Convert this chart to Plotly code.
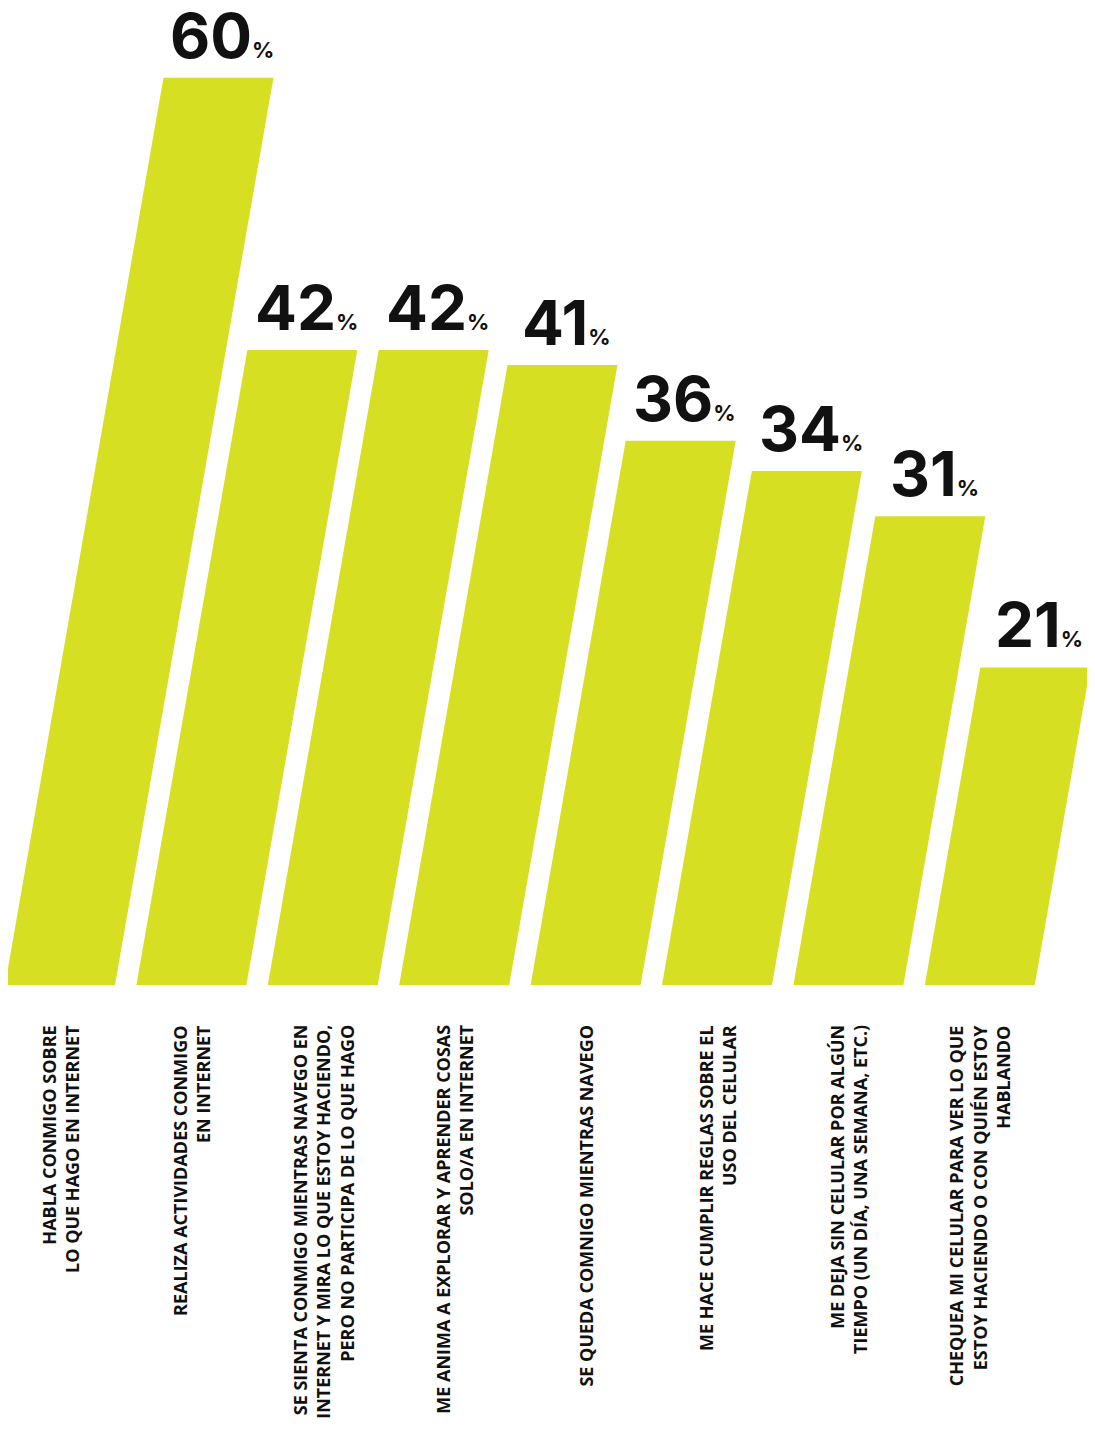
import plotly.graph_objects as go

LIME = "#D7DF23"
INK = "#111111"

categories = [
    "HABLA CONMIGO SOBRE<br>LO QUE HAGO EN INTERNET",
    "REALIZA ACTIVIDADES CONMIGO<br>EN INTERNET",
    "SE SIENTA CONMIGO MIENTRAS NAVEGO EN<br>INTERNET Y MIRA LO QUE ESTOY HACIENDO,<br>PERO NO PARTICIPA DE LO QUE HAGO",
    "ME ANIMA A EXPLORAR Y APRENDER COSAS<br>SOLO/A EN INTERNET",
    "SE QUEDA COMNIGO MIENTRAS NAVEGO",
    "ME HACE CUMPLIR REGLAS SOBRE EL<br>USO DEL CELULAR",
    "ME DEJA SIN CELULAR POR ALGÚN<br>TIEMPO (UN DÍA, UNA SEMANA, ETC.)",
    "CHEQUEA MI CELULAR PARA VER LO QUE<br>ESTOY HACIENDO O CON QUIÉN ESTOY<br>HABLANDO",
]
values = [60, 42, 42, 41, 36, 34, 31, 21]

BAR_W = 0.837   # bar width in category units
SLANT = 0.0201  # horizontal lean per percentage point

# page has an 8px body margin, so the figure is a bit smaller than the window
W, H = 1087, 1423
PX_X, PX_Y = 131.4, 15.12
X0_PX, Y0_PX = 52, 977

fig = go.Figure()

for i, v in enumerate(values):
    x0, x1 = i - BAR_W / 2, i + BAR_W / 2
    dx = SLANT * v
    fig.add_trace(go.Scatter(
        x=[x0, x1, x1 + dx, x0 + dx, x0],
        y=[0, 0, v, v, 0],
        fill="toself", fillcolor=LIME,
        mode="lines", line=dict(width=0),
        hoverinfo="skip", showlegend=False,
    ))
    # big value label over the top edge
    fig.add_annotation(
        x=i + dx + 0.03, y=v, xref="x", yref="y",
        text=f"<b>{v}<span style='font-size:22px'>%</span></b>",
        showarrow=False, xanchor="center", yanchor="bottom", yshift=3,
        font=dict(family="Inter", size=62, color=INK),
    )
    # rotated category label under the bar
    fig.add_annotation(
        x=i, y=1 - 1015 / H, xref="x", yref="paper",
        text=f"<b>{categories[i]}</b>",
        showarrow=False, textangle=-90, align="right",
        xanchor="center", yanchor="top",
        font=dict(family="Open Sans", size=18, color=INK),
    )

fig.update_layout(
    width=W, height=H,
    margin=dict(l=0, r=0, t=0, b=0),
    paper_bgcolor="white", plot_bgcolor="white",
    xaxis=dict(range=[-X0_PX / PX_X, (W - X0_PX) / PX_X], visible=False, fixedrange=True),
    yaxis=dict(range=[-(H - Y0_PX) / PX_Y, Y0_PX / PX_Y], visible=False, fixedrange=True),
    showlegend=False,
)

fig.write_html("out.html")
